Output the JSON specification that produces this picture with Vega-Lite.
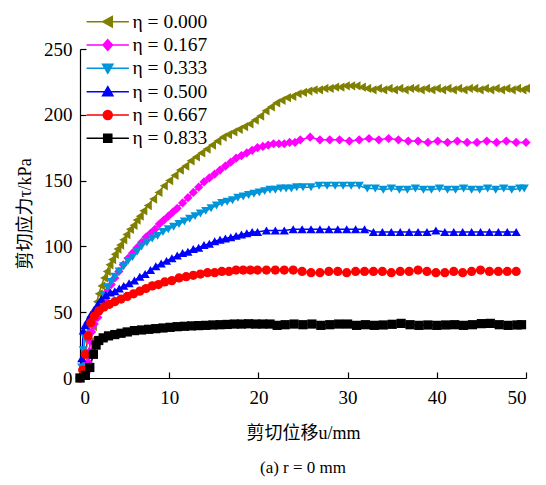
{
  "$schema": "https://vega.github.io/schema/vega-lite/v6.json",
  "width": 446,
  "height": 329,
  "autosize": "none",
  "padding": {"left": 80, "top": 49, "right": 20, "bottom": 107},
  "background": "white",
  "config": {
    "view": {"stroke": null},
    "axis": {
      "grid": false,
      "domainColor": "black",
      "domainWidth": 1.2,
      "tickColor": "black",
      "tickWidth": 1.2,
      "tickSize": -6,
      "labelFont": "Liberation Serif",
      "labelFontSize": 19,
      "labelColor": "black",
      "titleFont": "Liberation Serif, Noto Sans CJK SC",
      "titleFontSize": 18,
      "titleFontWeight": "normal",
      "titleColor": "black"
    },
    "legend": {
      "orient": "none",
      "legendX": 18,
      "legendY": -37,
      "title": null,
      "labelFont": "Liberation Serif",
      "labelFontSize": 19.5,
      "labelColor": "black",
      "labelOffset": 15,
      "symbolSize": 81,
      "symbolStrokeWidth": 1.5,
      "symbolOpacity": 1,
      "rowPadding": 2.3
    }
  },
  "title": {
    "text": "(a) r = 0 mm",
    "orient": "bottom",
    "anchor": "middle",
    "font": "Liberation Serif",
    "fontSize": 17,
    "fontWeight": "normal",
    "color": "black",
    "offset": 18
  },
  "data": {
    "values": [
      {"e":"0.000","u":0,"t":0},{"e":"0.000","u":0.3,"t":2},{"e":"0.000","u":0.6,"t":8},{"e":"0.000","u":0.9,"t":18},{"e":"0.000","u":1.2,"t":28},{"e":"0.000","u":1.45,"t":39},{"e":"0.000","u":1.7,"t":52},{"e":"0.000","u":1.9,"t":58},{"e":"0.000","u":2.1,"t":64},{"e":"0.000","u":2.4,"t":70},{"e":"0.000","u":2.7,"t":76},{"e":"0.000","u":3.0,"t":81},{"e":"0.000","u":3.3,"t":86},{"e":"0.000","u":3.6,"t":90},{"e":"0.000","u":3.9,"t":94},{"e":"0.000","u":4.2,"t":98},{"e":"0.000","u":4.5,"t":101},{"e":"0.000","u":4.85,"t":105},{"e":"0.000","u":5.2,"t":109},{"e":"0.000","u":5.6,"t":113},{"e":"0.000","u":6.0,"t":116},{"e":"0.000","u":6.35,"t":120},{"e":"0.000","u":6.7,"t":123},{"e":"0.000","u":7.1,"t":127},{"e":"0.000","u":7.6,"t":131},{"e":"0.000","u":8.2,"t":136},{"e":"0.000","u":8.8,"t":141},{"e":"0.000","u":9.4,"t":146},{"e":"0.000","u":10.0,"t":150},{"e":"0.000","u":10.6,"t":154},{"e":"0.000","u":11.2,"t":158},{"e":"0.000","u":11.8,"t":161},{"e":"0.000","u":12.4,"t":165},{"e":"0.000","u":13.0,"t":168},{"e":"0.000","u":13.6,"t":171},{"e":"0.000","u":14.2,"t":174},{"e":"0.000","u":14.8,"t":177},{"e":"0.000","u":15.4,"t":180},{"e":"0.000","u":16.0,"t":183},{"e":"0.000","u":16.6,"t":185},{"e":"0.000","u":17.2,"t":187},{"e":"0.000","u":17.8,"t":189},{"e":"0.000","u":18.4,"t":191},{"e":"0.000","u":19.0,"t":193},{"e":"0.000","u":19.6,"t":196},{"e":"0.000","u":20.2,"t":199},{"e":"0.000","u":20.8,"t":203},{"e":"0.000","u":21.4,"t":206},{"e":"0.000","u":22.0,"t":209},{"e":"0.000","u":22.6,"t":211},{"e":"0.000","u":23.2,"t":213},{"e":"0.000","u":23.8,"t":214},{"e":"0.000","u":24.4,"t":216},{"e":"0.000","u":25.0,"t":217},{"e":"0.000","u":25.6,"t":218},{"e":"0.000","u":26.2,"t":219},{"e":"0.000","u":26.8,"t":219},{"e":"0.000","u":27.4,"t":220},{"e":"0.000","u":28.0,"t":220},{"e":"0.000","u":28.6,"t":221},{"e":"0.000","u":29.2,"t":221},{"e":"0.000","u":29.8,"t":222},{"e":"0.000","u":30.4,"t":222},{"e":"0.000","u":31.0,"t":222},{"e":"0.000","u":31.6,"t":221},{"e":"0.000","u":32.2,"t":220},{"e":"0.000","u":32.8,"t":219},{"e":"0.000","u":33.4,"t":220},{"e":"0.000","u":34.0,"t":219},{"e":"0.000","u":34.6,"t":220},{"e":"0.000","u":35.2,"t":219},{"e":"0.000","u":35.8,"t":220},{"e":"0.000","u":36.4,"t":219},{"e":"0.000","u":37.0,"t":220},{"e":"0.000","u":37.6,"t":220},{"e":"0.000","u":38.2,"t":219},{"e":"0.000","u":38.8,"t":220},{"e":"0.000","u":39.4,"t":219},{"e":"0.000","u":40.0,"t":220},{"e":"0.000","u":40.6,"t":219},{"e":"0.000","u":41.2,"t":220},{"e":"0.000","u":41.8,"t":219},{"e":"0.000","u":42.4,"t":220},{"e":"0.000","u":43.0,"t":219},{"e":"0.000","u":43.6,"t":220},{"e":"0.000","u":44.2,"t":220},{"e":"0.000","u":44.8,"t":219},{"e":"0.000","u":45.4,"t":220},{"e":"0.000","u":46.0,"t":219},{"e":"0.000","u":46.6,"t":220},{"e":"0.000","u":47.2,"t":219},{"e":"0.000","u":47.8,"t":220},{"e":"0.000","u":48.4,"t":219},{"e":"0.000","u":49.0,"t":220},{"e":"0.000","u":49.6,"t":219},{"e":"0.000","u":50.0,"t":220},

      {"e":"0.167","u":0,"t":0},{"e":"0.167","u":0.4,"t":1},{"e":"0.167","u":0.7,"t":4},{"e":"0.167","u":0.9,"t":12},{"e":"0.167","u":1.05,"t":20},{"e":"0.167","u":1.15,"t":28},{"e":"0.167","u":1.3,"t":35},{"e":"0.167","u":1.6,"t":41},{"e":"0.167","u":2.0,"t":46},{"e":"0.167","u":2.4,"t":52},{"e":"0.167","u":2.8,"t":60},{"e":"0.167","u":3.1,"t":66},{"e":"0.167","u":3.5,"t":71},{"e":"0.167","u":3.9,"t":76},{"e":"0.167","u":4.35,"t":81},{"e":"0.167","u":4.85,"t":86},{"e":"0.167","u":5.4,"t":91},{"e":"0.167","u":5.9,"t":95},{"e":"0.167","u":6.4,"t":99},{"e":"0.167","u":6.9,"t":103},{"e":"0.167","u":7.4,"t":107},{"e":"0.167","u":7.9,"t":110},{"e":"0.167","u":8.4,"t":113},{"e":"0.167","u":8.9,"t":117},{"e":"0.167","u":9.4,"t":120},{"e":"0.167","u":9.9,"t":123},{"e":"0.167","u":10.4,"t":126},{"e":"0.167","u":10.9,"t":129},{"e":"0.167","u":11.5,"t":133},{"e":"0.167","u":12.1,"t":137},{"e":"0.167","u":12.7,"t":141},{"e":"0.167","u":13.3,"t":145},{"e":"0.167","u":13.9,"t":149},{"e":"0.167","u":14.5,"t":152},{"e":"0.167","u":15.1,"t":155},{"e":"0.167","u":15.7,"t":158},{"e":"0.167","u":16.3,"t":161},{"e":"0.167","u":16.9,"t":164},{"e":"0.167","u":17.5,"t":167},{"e":"0.167","u":18.1,"t":169},{"e":"0.167","u":18.7,"t":171},{"e":"0.167","u":19.3,"t":173},{"e":"0.167","u":19.9,"t":175},{"e":"0.167","u":20.5,"t":176},{"e":"0.167","u":21.1,"t":177},{"e":"0.167","u":21.7,"t":178},{"e":"0.167","u":22.3,"t":178},{"e":"0.167","u":22.9,"t":178},{"e":"0.167","u":23.5,"t":179},{"e":"0.167","u":24.1,"t":179},{"e":"0.167","u":24.7,"t":181},{"e":"0.167","u":25.8,"t":183},{"e":"0.167","u":26.9,"t":181},{"e":"0.167","u":28.0,"t":181},{"e":"0.167","u":29.1,"t":181},{"e":"0.167","u":30.2,"t":180},{"e":"0.167","u":31.3,"t":181},{"e":"0.167","u":32.4,"t":182},{"e":"0.167","u":33.5,"t":181},{"e":"0.167","u":34.6,"t":182},{"e":"0.167","u":35.7,"t":181},{"e":"0.167","u":36.8,"t":180},{"e":"0.167","u":37.9,"t":180},{"e":"0.167","u":39.0,"t":179},{"e":"0.167","u":40.1,"t":180},{"e":"0.167","u":41.2,"t":179},{"e":"0.167","u":42.3,"t":180},{"e":"0.167","u":43.4,"t":179},{"e":"0.167","u":44.5,"t":179},{"e":"0.167","u":45.6,"t":180},{"e":"0.167","u":46.7,"t":179},{"e":"0.167","u":47.8,"t":180},{"e":"0.167","u":48.9,"t":179},{"e":"0.167","u":50.0,"t":179},

      {"e":"0.333","u":0,"t":0},{"e":"0.333","u":0.2,"t":8},{"e":"0.333","u":0.37,"t":21},{"e":"0.333","u":0.6,"t":30},{"e":"0.333","u":0.93,"t":39},{"e":"0.333","u":1.3,"t":44},{"e":"0.333","u":1.8,"t":48},{"e":"0.333","u":2.3,"t":55},{"e":"0.333","u":2.7,"t":63},{"e":"0.333","u":3.1,"t":69},{"e":"0.333","u":3.5,"t":73},{"e":"0.333","u":3.9,"t":77},{"e":"0.333","u":4.4,"t":81},{"e":"0.333","u":4.9,"t":85},{"e":"0.333","u":5.4,"t":89},{"e":"0.333","u":5.9,"t":92},{"e":"0.333","u":6.4,"t":96},{"e":"0.333","u":6.9,"t":100},{"e":"0.333","u":7.5,"t":103},{"e":"0.333","u":8.1,"t":106},{"e":"0.333","u":8.7,"t":108},{"e":"0.333","u":9.3,"t":111},{"e":"0.333","u":9.9,"t":113},{"e":"0.333","u":10.5,"t":115},{"e":"0.333","u":11.1,"t":117},{"e":"0.333","u":11.7,"t":119},{"e":"0.333","u":12.3,"t":121},{"e":"0.333","u":12.9,"t":123},{"e":"0.333","u":13.5,"t":125},{"e":"0.333","u":14.1,"t":127},{"e":"0.333","u":14.7,"t":129},{"e":"0.333","u":15.3,"t":131},{"e":"0.333","u":15.9,"t":133},{"e":"0.333","u":16.5,"t":134},{"e":"0.333","u":17.1,"t":135},{"e":"0.333","u":17.7,"t":137},{"e":"0.333","u":18.3,"t":138},{"e":"0.333","u":18.9,"t":139},{"e":"0.333","u":19.5,"t":140},{"e":"0.333","u":20.1,"t":141},{"e":"0.333","u":20.7,"t":142},{"e":"0.333","u":21.3,"t":143},{"e":"0.333","u":21.9,"t":143},{"e":"0.333","u":22.5,"t":144},{"e":"0.333","u":23.1,"t":144},{"e":"0.333","u":23.7,"t":144},{"e":"0.333","u":24.3,"t":145},{"e":"0.333","u":25.0,"t":145},{"e":"0.333","u":25.9,"t":145},{"e":"0.333","u":26.8,"t":146},{"e":"0.333","u":27.7,"t":146},{"e":"0.333","u":28.6,"t":146},{"e":"0.333","u":29.5,"t":146},{"e":"0.333","u":30.4,"t":146},{"e":"0.333","u":31.3,"t":146},{"e":"0.333","u":32.2,"t":144},{"e":"0.333","u":33.1,"t":144},{"e":"0.333","u":34.0,"t":143},{"e":"0.333","u":34.9,"t":144},{"e":"0.333","u":35.8,"t":143},{"e":"0.333","u":36.7,"t":143},{"e":"0.333","u":37.6,"t":144},{"e":"0.333","u":38.5,"t":143},{"e":"0.333","u":39.4,"t":143},{"e":"0.333","u":40.3,"t":144},{"e":"0.333","u":41.2,"t":143},{"e":"0.333","u":42.1,"t":143},{"e":"0.333","u":43.0,"t":144},{"e":"0.333","u":43.9,"t":143},{"e":"0.333","u":44.8,"t":143},{"e":"0.333","u":45.7,"t":144},{"e":"0.333","u":46.6,"t":143},{"e":"0.333","u":47.5,"t":144},{"e":"0.333","u":48.4,"t":143},{"e":"0.333","u":49.3,"t":144},{"e":"0.333","u":49.8,"t":144},

      {"e":"0.500","u":0,"t":0},{"e":"0.500","u":0.2,"t":15},{"e":"0.500","u":0.37,"t":36},{"e":"0.500","u":0.56,"t":40},{"e":"0.500","u":0.9,"t":44},{"e":"0.500","u":1.2,"t":48},{"e":"0.500","u":1.6,"t":52},{"e":"0.500","u":2.0,"t":56},{"e":"0.500","u":2.4,"t":60},{"e":"0.500","u":2.9,"t":63},{"e":"0.500","u":3.4,"t":65},{"e":"0.500","u":3.9,"t":66},{"e":"0.500","u":4.4,"t":68},{"e":"0.500","u":4.9,"t":70},{"e":"0.500","u":5.5,"t":72},{"e":"0.500","u":6.1,"t":74},{"e":"0.500","u":6.7,"t":77},{"e":"0.500","u":7.3,"t":79},{"e":"0.500","u":7.9,"t":82},{"e":"0.500","u":8.5,"t":85},{"e":"0.500","u":9.1,"t":87},{"e":"0.500","u":9.7,"t":89},{"e":"0.500","u":10.3,"t":91},{"e":"0.500","u":10.9,"t":93},{"e":"0.500","u":11.5,"t":95},{"e":"0.500","u":12.1,"t":96},{"e":"0.500","u":12.7,"t":98},{"e":"0.500","u":13.3,"t":99},{"e":"0.500","u":13.9,"t":101},{"e":"0.500","u":14.5,"t":102},{"e":"0.500","u":15.1,"t":104},{"e":"0.500","u":15.7,"t":105},{"e":"0.500","u":16.3,"t":106},{"e":"0.500","u":16.9,"t":107},{"e":"0.500","u":17.5,"t":108},{"e":"0.500","u":18.1,"t":109},{"e":"0.500","u":18.7,"t":110},{"e":"0.500","u":19.3,"t":111},{"e":"0.500","u":19.9,"t":111},{"e":"0.500","u":20.9,"t":112},{"e":"0.500","u":21.9,"t":112},{"e":"0.500","u":22.9,"t":112},{"e":"0.500","u":23.9,"t":113},{"e":"0.500","u":24.9,"t":113},{"e":"0.500","u":25.9,"t":113},{"e":"0.500","u":26.9,"t":113},{"e":"0.500","u":27.9,"t":113},{"e":"0.500","u":28.9,"t":113},{"e":"0.500","u":29.9,"t":113},{"e":"0.500","u":30.9,"t":113},{"e":"0.500","u":31.9,"t":113},{"e":"0.500","u":32.9,"t":111},{"e":"0.500","u":33.9,"t":111},{"e":"0.500","u":34.9,"t":111},{"e":"0.500","u":35.9,"t":111},{"e":"0.500","u":36.9,"t":111},{"e":"0.500","u":37.9,"t":111},{"e":"0.500","u":38.9,"t":111},{"e":"0.500","u":39.9,"t":112},{"e":"0.500","u":40.9,"t":111},{"e":"0.500","u":41.9,"t":111},{"e":"0.500","u":42.9,"t":111},{"e":"0.500","u":43.9,"t":111},{"e":"0.500","u":44.9,"t":111},{"e":"0.500","u":45.9,"t":111},{"e":"0.500","u":46.9,"t":111},{"e":"0.500","u":47.9,"t":111},{"e":"0.500","u":48.9,"t":111},

      {"e":"0.667","u":0,"t":0},{"e":"0.667","u":0.3,"t":6},{"e":"0.667","u":0.6,"t":18},{"e":"0.667","u":0.9,"t":32},{"e":"0.667","u":1.2,"t":42},{"e":"0.667","u":1.6,"t":47},{"e":"0.667","u":2.1,"t":51},{"e":"0.667","u":2.7,"t":54},{"e":"0.667","u":3.3,"t":56},{"e":"0.667","u":3.9,"t":58},{"e":"0.667","u":4.6,"t":60},{"e":"0.667","u":5.3,"t":62},{"e":"0.667","u":6.0,"t":64},{"e":"0.667","u":6.7,"t":66},{"e":"0.667","u":7.4,"t":68},{"e":"0.667","u":8.1,"t":70},{"e":"0.667","u":8.8,"t":71},{"e":"0.667","u":9.5,"t":73},{"e":"0.667","u":10.3,"t":74},{"e":"0.667","u":11.1,"t":76},{"e":"0.667","u":11.9,"t":77},{"e":"0.667","u":12.7,"t":78},{"e":"0.667","u":13.5,"t":79},{"e":"0.667","u":14.3,"t":80},{"e":"0.667","u":15.1,"t":80},{"e":"0.667","u":15.9,"t":81},{"e":"0.667","u":16.7,"t":81},{"e":"0.667","u":17.5,"t":82},{"e":"0.667","u":18.3,"t":82},{"e":"0.667","u":19.1,"t":82},{"e":"0.667","u":19.9,"t":82},{"e":"0.667","u":20.9,"t":82},{"e":"0.667","u":21.9,"t":82},{"e":"0.667","u":22.9,"t":82},{"e":"0.667","u":23.9,"t":82},{"e":"0.667","u":24.9,"t":81},{"e":"0.667","u":25.9,"t":80},{"e":"0.667","u":26.9,"t":80},{"e":"0.667","u":27.9,"t":81},{"e":"0.667","u":28.9,"t":81},{"e":"0.667","u":29.9,"t":80},{"e":"0.667","u":30.9,"t":81},{"e":"0.667","u":31.9,"t":81},{"e":"0.667","u":32.9,"t":81},{"e":"0.667","u":33.9,"t":81},{"e":"0.667","u":34.9,"t":80},{"e":"0.667","u":35.9,"t":81},{"e":"0.667","u":36.9,"t":81},{"e":"0.667","u":37.9,"t":82},{"e":"0.667","u":38.9,"t":81},{"e":"0.667","u":39.9,"t":80},{"e":"0.667","u":40.9,"t":80},{"e":"0.667","u":41.9,"t":81},{"e":"0.667","u":42.9,"t":80},{"e":"0.667","u":43.9,"t":81},{"e":"0.667","u":44.9,"t":82},{"e":"0.667","u":45.9,"t":81},{"e":"0.667","u":46.9,"t":81},{"e":"0.667","u":47.9,"t":81},{"e":"0.667","u":48.9,"t":81},

      {"e":"0.833","u":0,"t":0},{"e":"0.833","u":0.6,"t":2},{"e":"0.833","u":1.1,"t":8},{"e":"0.833","u":1.5,"t":18},{"e":"0.833","u":1.8,"t":25},{"e":"0.833","u":2.1,"t":28.5},{"e":"0.833","u":2.6,"t":30.5},{"e":"0.833","u":3.2,"t":32},{"e":"0.833","u":3.9,"t":33},{"e":"0.833","u":4.6,"t":34},{"e":"0.833","u":5.3,"t":35},{"e":"0.833","u":6.1,"t":36},{"e":"0.833","u":6.9,"t":36.5},{"e":"0.833","u":7.7,"t":37},{"e":"0.833","u":8.5,"t":37.5},{"e":"0.833","u":9.3,"t":38},{"e":"0.833","u":10.1,"t":38.5},{"e":"0.833","u":10.9,"t":39},{"e":"0.833","u":11.7,"t":39.3},{"e":"0.833","u":12.5,"t":39.6},{"e":"0.833","u":13.3,"t":39.8},{"e":"0.833","u":14.1,"t":40},{"e":"0.833","u":14.9,"t":40.3},{"e":"0.833","u":15.7,"t":40.5},{"e":"0.833","u":16.5,"t":40.7},{"e":"0.833","u":17.3,"t":41},{"e":"0.833","u":18.1,"t":41},{"e":"0.833","u":18.9,"t":41.2},{"e":"0.833","u":19.7,"t":41},{"e":"0.833","u":20.5,"t":41},{"e":"0.833","u":21.3,"t":41},{"e":"0.833","u":22.1,"t":40},{"e":"0.833","u":23.0,"t":40.5},{"e":"0.833","u":24.0,"t":41},{"e":"0.833","u":25.0,"t":40.5},{"e":"0.833","u":26.0,"t":41},{"e":"0.833","u":27.0,"t":40},{"e":"0.833","u":28.0,"t":40.5},{"e":"0.833","u":29.0,"t":41},{"e":"0.833","u":30.0,"t":41},{"e":"0.833","u":31.0,"t":40},{"e":"0.833","u":32.0,"t":40.5},{"e":"0.833","u":33.0,"t":40},{"e":"0.833","u":34.0,"t":40.3},{"e":"0.833","u":35.0,"t":40.8},{"e":"0.833","u":36.0,"t":41.5},{"e":"0.833","u":37.0,"t":40.5},{"e":"0.833","u":38.0,"t":40},{"e":"0.833","u":39.0,"t":40.3},{"e":"0.833","u":40.0,"t":40},{"e":"0.833","u":41.0,"t":40.3},{"e":"0.833","u":42.0,"t":40.5},{"e":"0.833","u":43.0,"t":40},{"e":"0.833","u":44.0,"t":40.5},{"e":"0.833","u":45.0,"t":41.3},{"e":"0.833","u":46.0,"t":41.5},{"e":"0.833","u":47.0,"t":40.5},{"e":"0.833","u":48.0,"t":40},{"e":"0.833","u":49.0,"t":40.3},{"e":"0.833","u":49.5,"t":40.5}
    ]
  },
  "encoding": {
    "x": {
      "field": "u",
      "type": "quantitative",
      "scale": {"domain": [0, 50], "nice": false, "zero": false},
      "axis": {"values": [0, 10, 20, 30, 40, 50], "title": "剪切位移u/mm", "labelPadding": 16, "titlePadding": 17}
    },
    "y": {
      "field": "t",
      "type": "quantitative",
      "scale": {"domain": [0, 250], "nice": false},
      "axis": {"values": [0, 50, 100, 150, 200, 250], "title": "剪切应力τ/kPa", "labelPadding": 14, "titlePadding": 9}
    }
  },
  "layer": [
    {
      "mark": {"type": "line", "strokeWidth": 1.5},
      "encoding": {
        "color": {
          "field": "e",
          "type": "nominal",
          "scale": {
            "domain": ["0.000", "0.167", "0.333", "0.500", "0.667", "0.833"],
            "range": ["#808000", "#FF00FF", "#0095D9", "#0000FF", "#FF0000", "#000000"]
          },
          "legend": null
        }
      }
    },
    {
      "mark": {"type": "point", "filled": true, "opacity": 1, "size": 85},
      "encoding": {
        "color": {"field": "e", "type": "nominal", "legend": null},
        "shape": {
          "field": "e",
          "type": "nominal",
          "scale": {
            "domain": ["0.000", "0.167", "0.333", "0.500", "0.667", "0.833"],
            "range": ["triangle-left", "diamond", "triangle-down", "triangle-up", "circle", "square"]
          },
          "legend": null
        }
      }
    },
    {
      "transform": [{"filter": "false"}],
      "mark": {"type": "point", "filled": true, "opacity": 1, "strokeWidth": 1.5},
      "encoding": {
        "fill": {
          "field": "e",
          "type": "nominal",
          "scale": {
            "domain": ["0.000", "0.167", "0.333", "0.500", "0.667", "0.833"],
            "range": ["#808000", "#FF00FF", "#0095D9", "#0000FF", "#FF0000", "#000000"]
          },
          "legend": {"labelExpr": "'η = ' + datum.label"}
        },
        "stroke": {
          "field": "e",
          "type": "nominal",
          "scale": {
            "domain": ["0.000", "0.167", "0.333", "0.500", "0.667", "0.833"],
            "range": ["#808000", "#FF00FF", "#0095D9", "#0000FF", "#FF0000", "#000000"]
          },
          "legend": {"labelExpr": "'η = ' + datum.label"}
        },
        "shape": {
          "field": "e",
          "type": "nominal",
          "scale": {
            "domain": ["0.000", "0.167", "0.333", "0.500", "0.667", "0.833"],
            "range": [
              "M-4.7,0H4.7M-1.1,0L1,-1.15L1,1.15Z",
              "M-4.7,0H4.7M0,-1.2L1.05,0L0,1.2L-1.05,0Z",
              "M-4.7,0H4.7M-1.15,-0.9L1.15,-0.9L0,1.1Z",
              "M-4.7,0H4.7M0,-1.1L1.15,0.9L-1.15,0.9Z",
              "M-4.7,0H4.7M1,0A1,1,0,1,1,-1,0A1,1,0,1,1,1,0Z",
              "M-4.7,0H4.7M-0.9,-0.9H0.9V0.9H-0.9Z"
            ]
          },
          "legend": {"labelExpr": "'η = ' + datum.label"}
        }
      }
    }
  ],
  "resolve": {"scale": {"shape": "independent", "fill": "independent", "stroke": "independent"}}
}
